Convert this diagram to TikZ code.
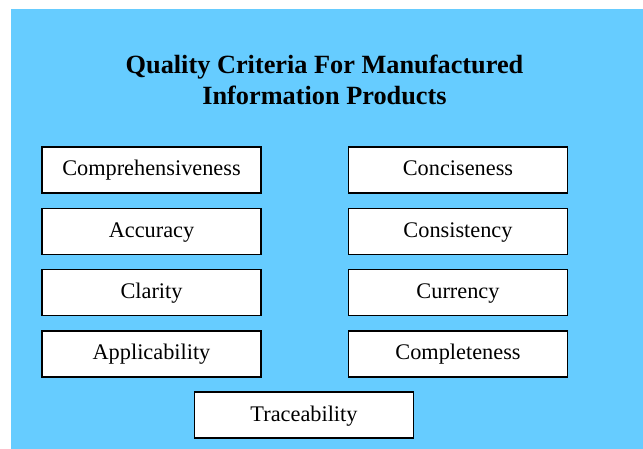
\documentclass[tikz,border=0pt]{standalone}
\usepackage{fontspec}
\setmainfont{Liberation Serif}
\usetikzlibrary{positioning}
\definecolor{skyback}{RGB}{102,204,255}

\begin{document}
\begin{tikzpicture}[x=1bp, y=-1bp, node distance=61.3bp]
	\tikzstyle{crit} = [draw, line width=1.3bp, fill=white, minimum width=219bp, minimum height=46bp, inner sep=0pt, text height=15bp, text depth=3bp, font=\fontsize{22.4}{26}\selectfont]
	\tikzstyle{heading} = [align=center, inner sep=0pt, font=\fontsize{26.4}{31}\selectfont\bfseries]
	\useasboundingbox (0,0) rectangle (643,449);
	\fill[skyback] (11,9) rectangle (643,449);

	\path
	node[heading] (title) at (324.5,79.5) {Quality Criteria For Manufactured\\Information Products}

	node[crit] (compr) at (151.5,170) {Comprehensiveness}
	node[crit, below of=compr] (accur) {Accuracy}
	node[crit, below of=accur] (clar) {Clarity}
	node[crit, below of=clar] (appl) {Applicability}

	node[crit] (conc) at (458,170) {Conciseness}
	node[crit, below of=conc] (consi) {Consistency}
	node[crit, below of=consi] (curr) {Currency}
	node[crit, below of=curr] (compl) {Completeness}

	node[crit] (trace) at (304,415) {Traceability}
	;
\end{tikzpicture}
\end{document}
